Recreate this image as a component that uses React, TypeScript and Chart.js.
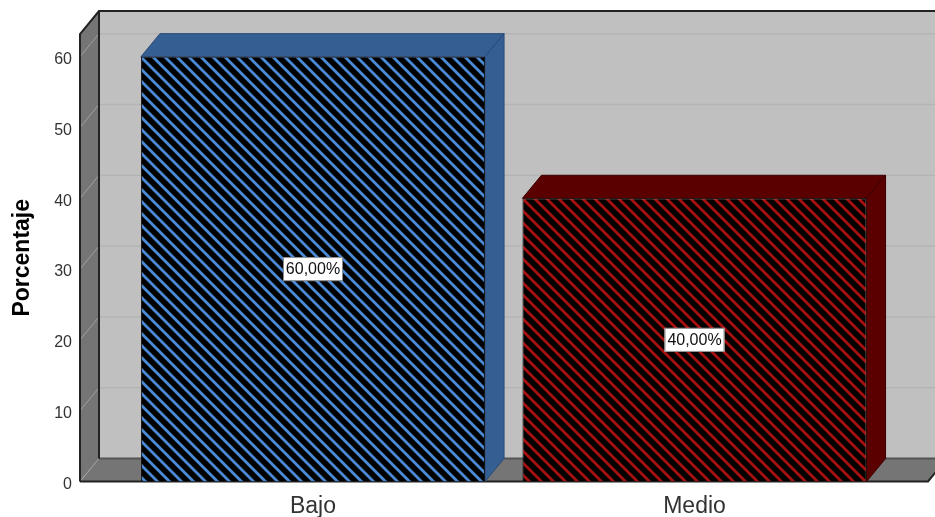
import React, { useEffect, useRef } from "react";
import { Chart, registerables } from "chart.js";

Chart.register(...registerables);

const categories = ["Bajo", "Medio"];
const values = [60, 40];
const valueLabels = ["60,00%", "40,00%"];
const stripeColors = ["#4a8ad4", "#a81010"];
const topColors = ["#355e92", "#5a0000"];
const edgeColors = ["#2a4a75", "#3a0000"];
const yAxisTitle = "Porcentaje";

const DX = 19;
const DY = -23;
const FONT = "'Liberation Sans', Arial, sans-serif";

function stripePattern(ctx: CanvasRenderingContext2D, color: string) {
  const size = 12;
  const tile = document.createElement("canvas");
  tile.width = size;
  tile.height = size;
  const c = tile.getContext("2d")!;
  c.fillStyle = "#000000";
  c.fillRect(0, 0, size, size);
  c.strokeStyle = color;
  c.lineWidth = 2.8;
  for (let i = -size; i <= size; i += size) {
    c.beginPath();
    c.moveTo(i - 2, -2);
    c.lineTo(i + size + 2, size + 2);
    c.stroke();
  }
  return ctx.createPattern(tile, "repeat")!;
}

function poly(ctx: CanvasRenderingContext2D, pts: number[][], fill: string, stroke?: string, lw = 1) {
  ctx.beginPath();
  pts.forEach((p, i) => (i ? ctx.lineTo(p[0], p[1]) : ctx.moveTo(p[0], p[1])));
  ctx.closePath();
  ctx.fillStyle = fill;
  ctx.fill();
  if (stroke) {
    ctx.strokeStyle = stroke;
    ctx.lineWidth = lw;
    ctx.stroke();
  }
}

const box3d = {
  id: "box3d",
  beforeDatasetsDraw(chart: any) {
    const { ctx, chartArea: a, scales } = chart;
    const { left: l, right: r, top: t, bottom: b } = a;
    ctx.save();
    poly(ctx, [[l + DX, t + DY], [r + DX + 20, t + DY], [r + DX + 20, b + DY], [l + DX, b + DY]], "#c0c0c0");
    poly(ctx, [[l, b], [l + DX, b + DY], [l + DX, t + DY], [l, t]], "#757575");
    poly(ctx, [[l, b], [r, b], [r + DX, b + DY], [l + DX, b + DY]], "#757575");
    for (const tick of scales.y.ticks) {
      const y = scales.y.getPixelForValue(tick.value);
      if (tick.value === 0) continue;
      ctx.strokeStyle = "#b4b4b4";
      ctx.lineWidth = 1.5;
      ctx.beginPath();
      ctx.moveTo(l + DX, y + DY);
      ctx.lineTo(r + DX + 20, y + DY);
      ctx.stroke();
      ctx.strokeStyle = "#a0a0a0";
      ctx.lineWidth = 1;
      ctx.beginPath();
      ctx.moveTo(l, y);
      ctx.lineTo(l + DX, y + DY);
      ctx.stroke();
    }
    ctx.strokeStyle = "#a0a0a0";
    ctx.lineWidth = 1;
    ctx.beginPath();
    ctx.moveTo(l, b);
    ctx.lineTo(l + DX, b + DY);
    ctx.stroke();

    ctx.strokeStyle = "#555555";
    ctx.lineWidth = 2;
    ctx.beginPath();
    ctx.moveTo(l + DX, b + DY);
    ctx.lineTo(r + DX + 20, b + DY);
    ctx.stroke();

    ctx.strokeStyle = "#222222";
    ctx.lineWidth = 2;
    ctx.beginPath();
    ctx.moveTo(l, b);
    ctx.lineTo(l, t);
    ctx.lineTo(l + DX, t + DY);
    ctx.lineTo(r + DX + 20, t + DY);
    ctx.moveTo(l + DX, t + DY);
    ctx.lineTo(l + DX, b + DY);
    ctx.stroke();
    ctx.beginPath();
    ctx.moveTo(l, b);
    ctx.lineTo(r, b);
    ctx.lineTo(r + DX, b + DY);
    ctx.stroke();

    const bars = chart.getDatasetMeta(0).data;
    bars.forEach((bar: any, i: number) => {
      const x0 = bar.x - bar.width / 2;
      const x1 = bar.x + bar.width / 2;
      poly(ctx, [[x0, bar.y], [x0 + DX, bar.y + DY], [x1 + DX, bar.y + DY], [x1, bar.y]], topColors[i], edgeColors[i]);
      poly(ctx, [[x1, bar.y], [x1 + DX, bar.y + DY], [x1 + DX, b + DY], [x1, b]], topColors[i], edgeColors[i]);
    });
    ctx.restore();
  },
  afterDatasetsDraw(chart: any) {
    const { ctx, chartArea: a } = chart;
    ctx.save();
    ctx.font = `16px ${FONT}`;
    ctx.textAlign = "center";
    ctx.textBaseline = "middle";
    chart.getDatasetMeta(0).data.forEach((bar: any, i: number) => {
      const cy = (bar.y + a.bottom) / 2;
      const w = 60;
      const h = 24;
      ctx.fillStyle = "#ffffff";
      ctx.fillRect(bar.x - w / 2, cy - h / 2, w, h);
      ctx.strokeStyle = "#8a8a8a";
      ctx.lineWidth = 1;
      ctx.strokeRect(bar.x - w / 2 + 0.5, cy - h / 2 + 0.5, w - 1, h - 1);
      ctx.fillStyle = "#111111";
      ctx.fillText(valueLabels[i], bar.x, cy + 1);
    });
    ctx.restore();
  },
};

export default function App() {
  const ref = useRef<HTMLCanvasElement>(null);
  useEffect(() => {
    const canvas = ref.current!;
    const ctx = canvas.getContext("2d")!;
    const chart = new Chart(canvas, {
      type: "bar",
      data: {
        datasets: [
          {
            data: values.map((v, i) => ({ x: i, y: v })),
            backgroundColor: stripeColors.map((c) => stripePattern(ctx, c)),
            borderColor: "#111111",
            borderWidth: 1,
            categoryPercentage: 1,
            barPercentage: 0.902,
          },
        ],
      },
      options: {
        animation: false,
        responsive: false,
        events: [],
        layout: { padding: { left: 0, right: 7, top: 34, bottom: 0 } },
        plugins: { legend: { display: false }, tooltip: { enabled: false }, title: { display: false } },
        scales: {
          x: {
            type: "linear",
            offset: false,
            min: -0.6107,
            max: 1.612,
            grid: { display: false },
            border: { display: false },
            afterFit: (s: any) => {
              s.height = 35.5;
            },
            ticks: {
              stepSize: 1,
              includeBounds: false,
              autoSkip: false,
              maxRotation: 0,
              padding: 3,
              color: "#333333",
              font: { family: FONT, size: 23 },
              callback: (v: any) => categories[v] ?? "",
            },
          },
          y: {
            type: "linear",
            min: 0,
            max: 63.2,
            grid: { display: false },
            border: { display: false },
            afterFit: (s: any) => {
              s.width = 80;
            },
            title: {
              display: true,
              text: yAxisTitle,
              color: "#000000",
              font: { family: FONT, size: 23, weight: "bold" },
              padding: { top: 9, bottom: 0 },
            },
            ticks: {
              stepSize: 10,
              includeBounds: false,
              padding: 0,
              labelOffset: 3,
              color: "#333333",
              font: { family: FONT, size: 16 },
            },
          },
        },
      },
      plugins: [box3d],
    } as any);
    return () => chart.destroy();
  }, []);
  return (
    <div style={{ position: "fixed", left: 0, top: 0, width: 935, height: 517, background: "#ffffff", overflow: "hidden" }}>
      <canvas ref={ref} width={935} height={517} style={{ display: "block" }} />
    </div>
  );
}
